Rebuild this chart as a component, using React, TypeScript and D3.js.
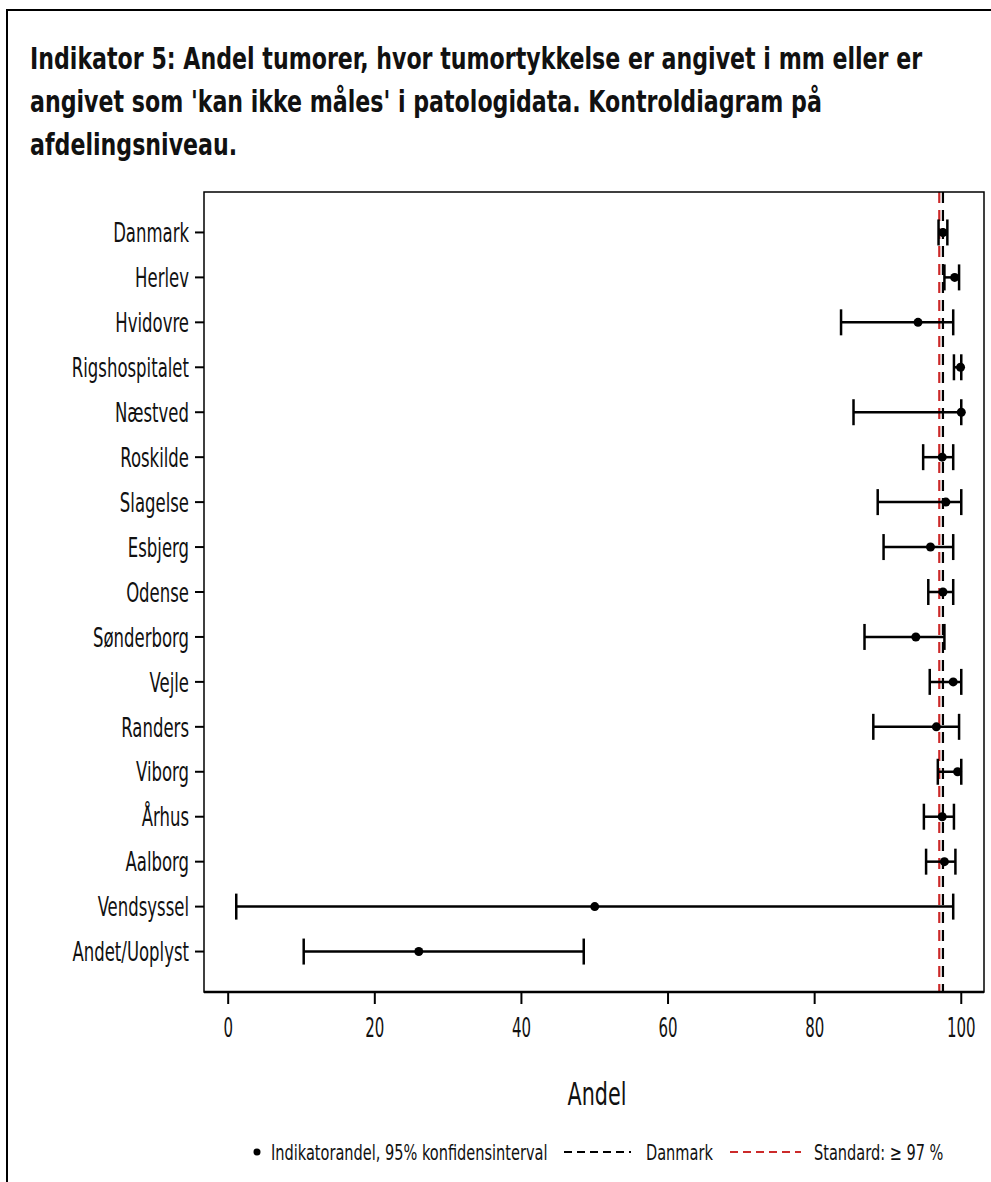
import React from "react";
import * as d3 from "d3";

const categories = [
  "Danmark", "Herlev", "Hvidovre", "Rigshospitalet", "Næstved", "Roskilde", "Slagelse",
  "Esbjerg", "Odense", "Sønderborg", "Vejle", "Randers", "Viborg", "Århus", "Aalborg",
  "Vendsyssel", "Andet/Uoplyst",
];
const estimate = [97.5, 99.1, 94.1, 99.9, 100, 97.4, 97.9, 95.8, 97.5, 93.8, 98.9, 96.6, 99.5, 97.4, 97.7, 50.0, 26.0];
const lower = [96.9, 97.7, 83.6, 99.0, 85.3, 94.8, 88.6, 89.4, 95.5, 86.8, 95.7, 88.0, 96.8, 94.9, 95.2, 1.1, 10.3];
const upper = [98.1, 99.7, 98.9, 100, 100, 98.9, 100, 98.9, 98.9, 97.7, 100, 99.7, 100, 99.0, 99.2, 98.9, 48.5];
const xTicks = [0, 20, 40, 60, 80, 100];
const danmarkValue = 97.5;
const standardValue = 97;
const titleLines = [
  "Indikator 5: Andel tumorer, hvor tumortykkelse er angivet i mm eller er",
  "angivet som 'kan ikke måles' i patologidata. Kontroldiagram på",
  "afdelingsniveau.",
];
const xLabel = "Andel";
const legendLabels = ["Indikatorandel, 95% konfidensinterval", "Danmark", "Standard: ≥ 97 %"];

const FONT = "'DejaVu Sans Condensed', 'DejaVu Sans', sans-serif";
const RED = "#cc2a2a";

type TProps = {
  x: number; y: number; sx: number; size: number; anchor?: string; weight?: string; dy?: string; children: React.ReactNode;
};
function T({ x, y, sx, size, anchor = "start", weight = "normal", dy, children }: TProps) {
  return (
    <g transform={`translate(${x},${y}) scale(${sx},1)`}>
      <text x={0} y={0} dy={dy} textAnchor={anchor} fontFamily={FONT} fontWeight={weight} fontSize={size} fill="#111">
        {children}
      </text>
    </g>
  );
}

export default function App() {
  const W = 991, H = 1182;
  const left = 204, right = 984, top = 192, bottom = 992;
  const x = d3.scaleLinear().domain([-3.3, 103.1]).range([left, right]);
  const y = d3.scalePoint<string>().domain(categories).range([top, bottom]).padding(0.9);
  const capH = 13;

  return (
    <svg width={W} height={H} style={{ position: "absolute", left: 0, top: 0, background: "#fff" }}>
      <rect x={7} y={10} width={W} height={H} fill="#fff" stroke="#000" strokeWidth={2} />
      {titleLines.map((t, i) => (
        <T key={i} x={30} y={69 + i * 43} sx={0.82} size={30} weight="bold">{t}</T>
      ))}
      {/* reference lines */}
      <line x1={x(standardValue)} x2={x(standardValue)} y1={top} y2={bottom} stroke={RED} strokeWidth={2.2} strokeDasharray="11,7" />
      <line x1={x(danmarkValue)} x2={x(danmarkValue)} y1={top} y2={bottom} stroke="#000" strokeWidth={2.2} strokeDasharray="11,7" />
      {/* error bars */}
      {categories.map((c, i) => {
        const yy = y(c)!;
        return (
          <g key={c}>
            <line x1={x(lower[i])} x2={x(upper[i])} y1={yy} y2={yy} stroke="#000" strokeWidth={2.5} />
            <line x1={x(lower[i])} x2={x(lower[i])} y1={yy - capH} y2={yy + capH} stroke="#000" strokeWidth={2.5} />
            <line x1={x(upper[i])} x2={x(upper[i])} y1={yy - capH} y2={yy + capH} stroke="#000" strokeWidth={2.5} />
            <circle cx={x(estimate[i])} cy={yy} r={4.5} fill="#000" />
          </g>
        );
      })}
      {/* frame */}
      <rect x={left} y={top} width={right - left} height={bottom - top} fill="none" stroke="#000" strokeWidth={1.5} />
      <line x1={left} x2={right} y1={bottom} y2={bottom} stroke="#000" strokeWidth={2.5} />
      {/* y axis */}
      {categories.map((c) => (
        <g key={"yt" + c}>
          <line x1={left - 9} x2={left} y1={y(c)!} y2={y(c)!} stroke="#000" strokeWidth={2} />
          <T x={left - 15} y={y(c)!} dy="0.36em" sx={0.68} size={27} anchor="end">{c}</T>
        </g>
      ))}
      {/* x axis */}
      {xTicks.map((t) => (
        <g key={"xt" + t}>
          <line x1={x(t)} x2={x(t)} y1={bottom} y2={bottom + 12} stroke="#000" strokeWidth={2} />
          <T x={x(t)} y={bottom + 45} sx={0.64} size={26} anchor="middle">{t}</T>
        </g>
      ))}
      <T x={597} y={1105} sx={0.72} size={32} anchor="middle">{xLabel}</T>
      {/* legend */}
      <circle cx={257} cy={1152} r={3.5} fill="#000" />
      <T x={271} y={1160} sx={0.77} size={21}>{legendLabels[0]}</T>
      <line x1={564} x2={631} y1={1152} y2={1152} stroke="#000" strokeWidth={2} strokeDasharray="8,5" />
      <T x={646} y={1160} sx={0.77} size={21}>{legendLabels[1]}</T>
      <line x1={730} x2={801} y1={1152} y2={1152} stroke={RED} strokeWidth={2} strokeDasharray="8,5" />
      <T x={814} y={1160} sx={0.77} size={21}>{legendLabels[2]}</T>
    </svg>
  );
}
